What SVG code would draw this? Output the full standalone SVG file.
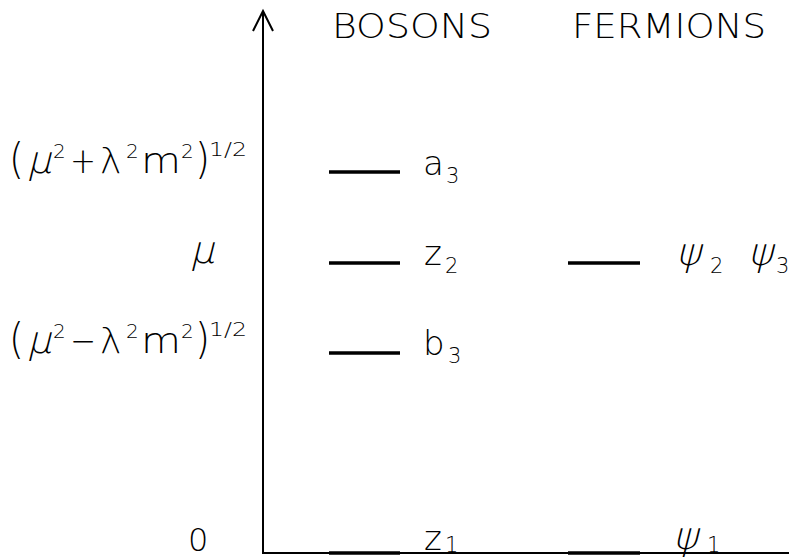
<svg xmlns="http://www.w3.org/2000/svg" width="789" height="559" viewBox="0 0 789 559">
<style>
text{font-family:"DejaVu Sans","Liberation Sans",Arial,sans-serif;font-weight:200;fill:#000}
.hd{font-size:34px}
.zero{font-size:32px}
.m{font-size:36px}
.mu{font-size:38px}
.p{font-size:42px}
.sup{font-size:20px}
.fr{font-size:19px}
.lb{font-size:34px}
.ps{font-size:38px}
.sb{font-size:21px}
.lvl{stroke:#000;stroke-width:3.5;fill:none}
.ax{stroke:#000;stroke-width:2;fill:none}
</style>
<rect width="789" height="559" fill="#fff"/>
<g id="axes">
<line class="ax" x1="263" y1="12" x2="263" y2="553"/>
<line class="ax" x1="262" y1="553" x2="789" y2="553"/>
<polyline class="ax" points="253,31 263,11 273,31"/>
</g>
<g id="headers">
<text class="hd" x="332" y="38" textLength="160" lengthAdjust="spacingAndGlyphs">BOSONS</text>
<text class="hd" x="572" y="38" textLength="194" lengthAdjust="spacingAndGlyphs">FERMIONS</text>
</g>
<g id="axis-labels">
<g id="label-plus">
<text class="p" x="9" y="174" textLength="15" lengthAdjust="spacingAndGlyphs">(</text>
<text class="mu" transform="translate(27,173) skewX(-14)">μ</text>
<text class="sup" x="53" y="158">2</text>
<text class="m" x="70" y="173" textLength="26" lengthAdjust="spacingAndGlyphs">+</text>
<text class="m" x="100" y="173">λ</text>
<text class="sup" x="126" y="158">2</text>
<text class="m" x="141" y="173" textLength="40" lengthAdjust="spacingAndGlyphs">m</text>
<text class="sup" x="181" y="158">2</text>
<text class="p" x="195" y="174" textLength="15" lengthAdjust="spacingAndGlyphs">)</text>
<text class="fr" x="209" y="156" textLength="38" lengthAdjust="spacingAndGlyphs">1/2</text>
</g>
<g id="label-mu">
<text class="mu" transform="translate(190,263) skewX(-14)">μ</text>
</g>
<g id="label-minus">
<text class="p" x="9" y="354" textLength="15" lengthAdjust="spacingAndGlyphs">(</text>
<text class="mu" transform="translate(27,353) skewX(-14)">μ</text>
<text class="sup" x="53" y="338">2</text>
<text class="m" x="70" y="353" textLength="26" lengthAdjust="spacingAndGlyphs">−</text>
<text class="m" x="100" y="353">λ</text>
<text class="sup" x="126" y="338">2</text>
<text class="m" x="141" y="353" textLength="40" lengthAdjust="spacingAndGlyphs">m</text>
<text class="sup" x="181" y="338">2</text>
<text class="p" x="195" y="354" textLength="15" lengthAdjust="spacingAndGlyphs">)</text>
<text class="fr" x="209" y="336" textLength="38" lengthAdjust="spacingAndGlyphs">1/2</text>
</g>
<g id="label-zero">
<text class="zero" x="188" y="551">0</text>
</g>
</g>
<g id="level-a3">
<line class="lvl" x1="329" y1="172" x2="400" y2="172"/>
<text class="lb" x="423" y="175">a</text><text class="sb" x="446" y="183">3</text>
</g>
<g id="level-z2">
<line class="lvl" x1="329" y1="263" x2="400" y2="263"/>
<text class="lb" x="424" y="265">z</text><text class="sb" x="445" y="273">2</text>
</g>
<g id="level-b3">
<line class="lvl" x1="329" y1="353" x2="400" y2="353"/>
<text class="lb" x="423" y="355">b</text><text class="sb" x="448" y="363">3</text>
</g>
<g id="level-z1">
<line class="lvl" x1="329" y1="553" x2="400" y2="553"/>
<text class="lb" x="424" y="550">z</text><text class="sb" x="445" y="552">1</text>
</g>
<g id="level-psi23">
<line class="lvl" x1="568" y1="263" x2="640" y2="263"/>
<text class="ps" transform="translate(676,265) skewX(-14)">ψ</text><text class="sb" x="710" y="273">2</text>
<text class="ps" transform="translate(748,265) skewX(-14)">ψ</text><text class="sb" x="776" y="273">3</text>
</g>
<g id="level-psi1">
<line class="lvl" x1="568" y1="553" x2="640" y2="553"/>
<text class="ps" transform="translate(673,549) skewX(-14)">ψ</text><text class="sb" x="707" y="552">1</text>
</g>
</svg>
